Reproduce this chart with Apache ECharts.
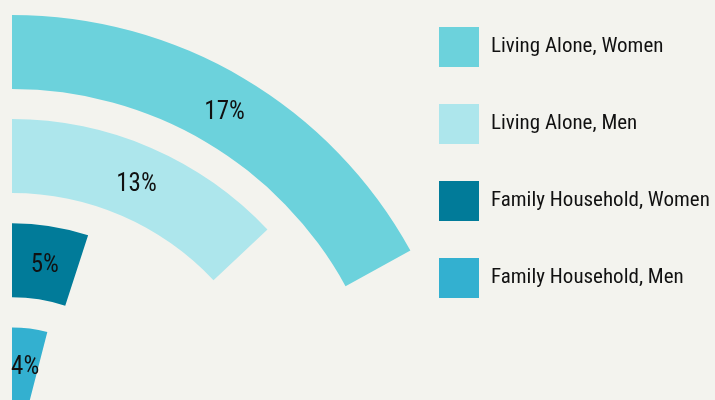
<!DOCTYPE html>
<html>
<head>
<meta charset="utf-8">
<script src="https://cdn.jsdelivr.net/npm/echarts@6/dist/echarts.min.js"></script>
<style>
  html, body { margin: 0; padding: 0; background: #f3f3ee; }
  #chart { width: 715px; height: 400px; }
</style>
</head>
<body>
<div id="chart"></div>
<script>
// Share of adults by household type (percent), inner ring to outer ring
const categories = ['Family Household, Men', 'Family Household, Women', 'Living Alone, Men', 'Living Alone, Women'];
const values = [4, 5, 13, 17];
const colors = ['#33b0d0', '#017b99', '#ade6ec', '#6cd2dc'];
const legendOrder = ['Living Alone, Women', 'Living Alone, Men', 'Family Household, Women', 'Family Household, Men'];

const FONT = '"Roboto Condensed", "DejaVu Sans Condensed", sans-serif';

// One series per category so each gets its own legend entry; stacking keeps them in one band
const series = categories.map((name, i) => ({
  name: name,
  type: 'bar',
  coordinateSystem: 'polar',
  stack: 'rings',
  barWidth: 74,
  data: categories.map((c, j) => (j === i ? values[i] : '-')),
  itemStyle: { color: colors[i] },
  label: {
    show: true,
    position: 'middle',
    rotate: 0,
    offset: [0, 3],
    formatter: '{c}%',
    fontFamily: FONT,
    fontSize: 25,
    color: '#111'
  },
  silent: true
}));

const chart = echarts.init(document.getElementById('chart'), null, { renderer: 'canvas' });
chart.setOption({
  backgroundColor: '#f3f3ee',
  animation: false,
  polar: {
    center: [12, 469.5],
    radius: [53, 469.7]
  },
  angleAxis: {
    type: 'value',
    min: 0,
    max: 100,
    startAngle: 90,
    clockwise: true,
    show: false
  },
  radiusAxis: {
    type: 'category',
    data: categories,
    show: false
  },
  legend: {
    orient: 'vertical',
    left: 439,
    top: 27,
    padding: 0,
    itemWidth: 40,
    itemHeight: 40,
    itemGap: 37,
    icon: 'rect',
    data: legendOrder,
    textStyle: {
      fontFamily: FONT,
      fontSize: 21,
      color: '#111',
      padding: [0, 0, 0, 7]
    },
    selectedMode: false
  },
  series: series
});
</script>
</body>
</html>
